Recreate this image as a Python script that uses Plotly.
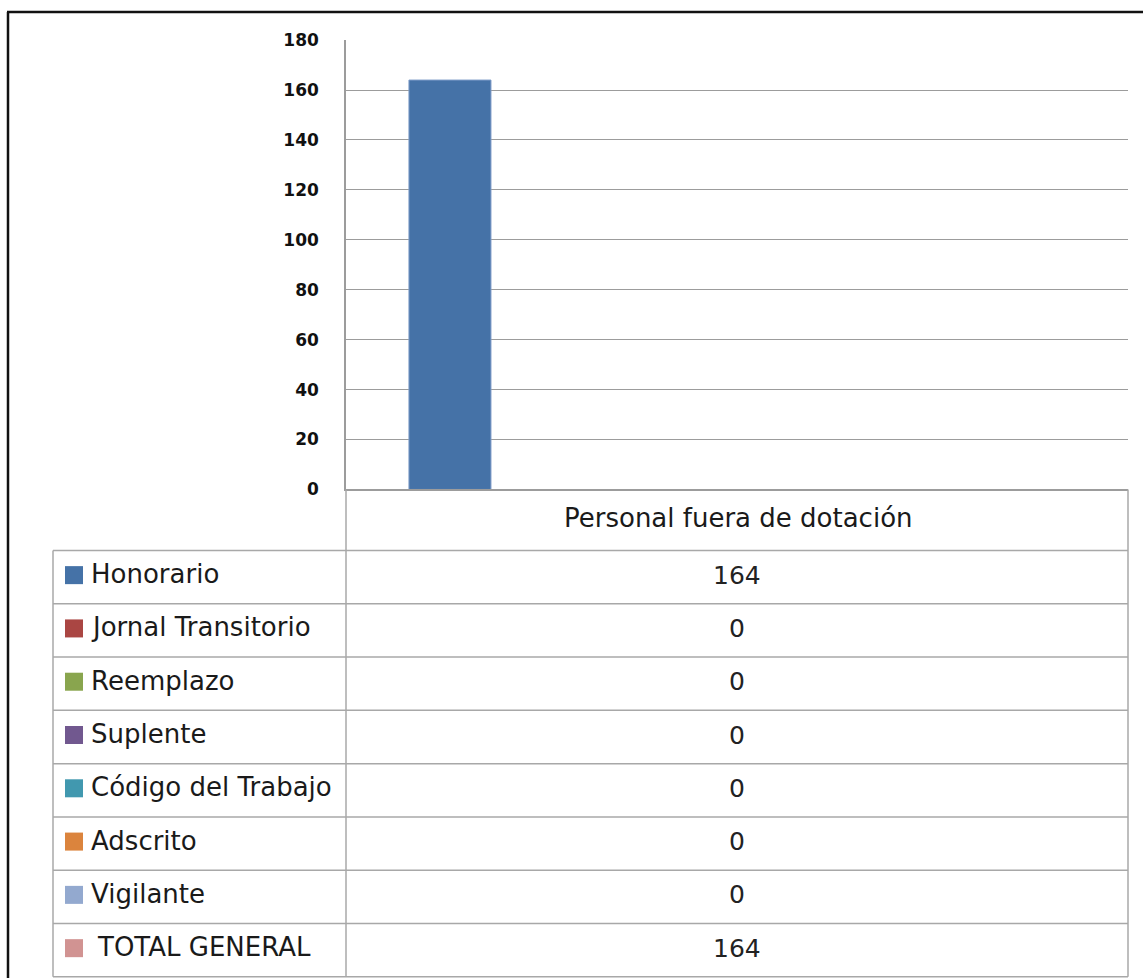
import plotly.graph_objects as go

# ---- data ----
category = "Personal fuera de dotación"
series_names = ["Honorario", "Jornal Transitorio", "Reemplazo", "Suplente",
                "Código del Trabajo", "Adscrito", "Vigilante", "TOTAL GENERAL"]
series_values = [164, 0, 0, 0, 0, 0, 0, 164]
series_plotted = [True, True, True, True, True, True, True, False]  # total shown only in table
series_colors = ["#4572A7", "#AA4643", "#89A54E", "#71588F",
                 "#4198AF", "#DB843D", "#93A9CF", "#D19392"]
y_ticks = [0, 20, 40, 60, 80, 100, 120, 140, 160, 180]

W, H = 1143, 978
# observed vertical mapping of paper space on screen
Y_OFF, Y_SPAN = 8.9, 957.3


def px(x):
    return x / W


def py(y):
    return 1 - (y - Y_OFF) / Y_SPAN


# layout geometry (pixels)
plot_l, plot_r = 346, 1128
plot_t, plot_b = 39, 488
table_l = 53
header_b = 549
table_b = 975
row_h = (table_b - header_b) / len(series_names)
grid_col = "#9c9c9c"
line_col = "#a8a8a8"

fig = go.Figure()
for name, val, show, col in zip(series_names, series_values, series_plotted, series_colors):
    fig.add_trace(go.Bar(
        x=[category], y=[val if show else None], name=name,
        marker=dict(color=col, line=dict(color="#7d9bc8", width=1 if val else 0)),
        showlegend=False, hoverinfo="name+y"))

shapes = []
# black outer frame (cropped on right/bottom)
shapes.append(dict(type="line", xref="paper", yref="paper", x0=px(7), x1=px(W + 5),
                   y0=py(11), y1=py(11), line=dict(color="#111", width=2.5)))
shapes.append(dict(type="line", xref="paper", yref="paper", x0=px(8), x1=px(8),
                   y0=py(11), y1=py(H + 5), line=dict(color="#111", width=2.5)))
# table lines
shapes.append(dict(type="line", xref="paper", yref="paper", x0=px(plot_r), x1=px(plot_r),
                   y0=py(plot_b), y1=py(table_b), line=dict(color=line_col, width=1.5)))
shapes.append(dict(type="line", xref="paper", yref="paper", x0=px(plot_l), x1=px(plot_l),
                   y0=py(plot_b), y1=py(table_b), line=dict(color=line_col, width=1.5)))
shapes.append(dict(type="line", xref="paper", yref="paper", x0=px(table_l), x1=px(table_l),
                   y0=py(header_b), y1=py(table_b), line=dict(color=line_col, width=1.5)))
for i in range(len(series_names) + 1):
    yy = header_b + i * row_h
    shapes.append(dict(type="line", xref="paper", yref="paper", x0=px(table_l), x1=px(plot_r),
                       y0=py(yy), y1=py(yy), line=dict(color=line_col, width=1.5)))

annotations = []
cx = (plot_l + plot_r) / 2
txt_font = "DejaVu Sans"
annotations.append(dict(xref="paper", yref="paper", x=px(cx + 1), y=py(517),
                        text=category, showarrow=False, xanchor="center", yanchor="middle",
                        font=dict(family=txt_font, size=26, color="#1a1a1a")))
for i, (name, val, col) in enumerate(zip(series_names, series_values, series_colors)):
    top = header_b + i * row_h
    mid = top + row_h / 2
    shapes.append(dict(type="rect", xref="paper", yref="paper", x0=px(65), x1=px(83),
                       y0=py(mid - 11), y1=py(mid + 7), fillcolor=col, line=dict(width=0)))
    annotations.append(dict(xref="paper", yref="paper", x=px(95 if name == "TOTAL GENERAL" else 89),
                            y=py(mid - 3), text=name, showarrow=False, xanchor="left", yanchor="middle",
                            font=dict(family=txt_font, size=26, color="#1a1a1a")))
    annotations.append(dict(xref="paper", yref="paper", x=px(cx), y=py(mid - 2), text=str(val),
                            showarrow=False, xanchor="center", yanchor="middle",
                            font=dict(family=txt_font, size=25, color="#222")))

fig.update_layout(
    width=W, height=H, autosize=False,
    margin=dict(l=0, r=0, t=0, b=0),
    paper_bgcolor="white", plot_bgcolor="white",
    barmode="group", bargap=0.161, bargroupgap=0,
    shapes=shapes, annotations=annotations,
    xaxis=dict(domain=[px(plot_l), px(plot_r)], type="category", showticklabels=False,
               showgrid=False, showline=True, linecolor=grid_col, linewidth=1.5, zeroline=False,
               fixedrange=True),
    yaxis=dict(domain=[py(plot_b), py(plot_t)], range=[0, 180], tickvals=y_ticks,
               showgrid=True, gridcolor=grid_col, gridwidth=1, showline=True,
               linecolor=grid_col, linewidth=1.5, zeroline=False, ticks="",
               ticklabelstandoff=22,
               tickfont=dict(family="DejaVu Sans", size=17, color="#111", weight="bold"),
               fixedrange=True),
)

fig.write_html(
    "out.html",
    config={"displayModeBar": False},
    post_script=(
        "var gd=document.getElementById('{plot_id}');"
        "gd.style.position='fixed';gd.style.top='0px';gd.style.left='0px';"
        "document.body.style.margin='0';document.body.style.overflow='hidden';"
    ),
)
